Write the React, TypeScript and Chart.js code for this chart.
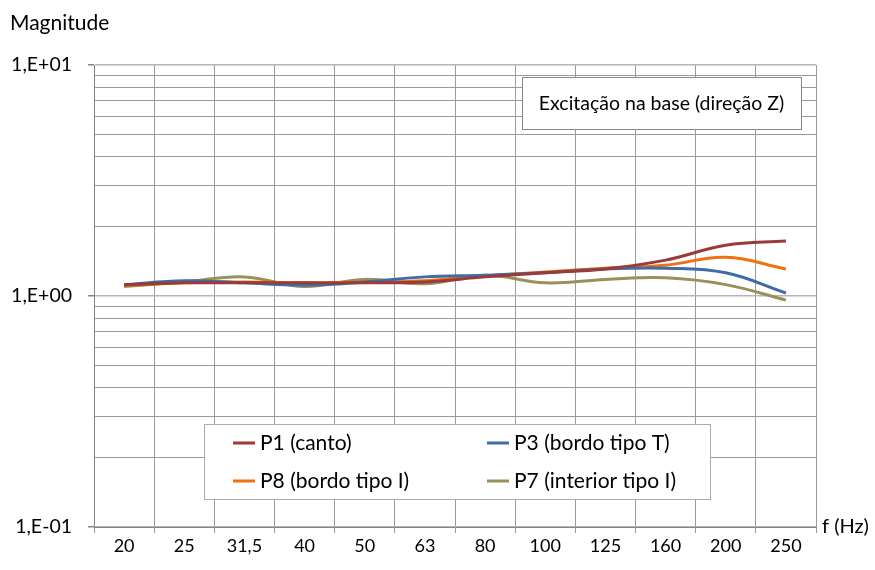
import React, { useEffect, useRef } from "react";
import { Chart, registerables } from "chart.js";

Chart.register(...registerables);

const categories = ["20", "25", "31,5", "40", "50", "63", "80", "100", "125", "160", "200", "250"];
const p1 = [1.12, 1.14, 1.14, 1.14, 1.14, 1.15, 1.21, 1.26, 1.31, 1.43, 1.66, 1.73];
const p3 = [1.12, 1.165, 1.14, 1.115, 1.15, 1.21, 1.23, 1.26, 1.31, 1.32, 1.26, 1.03];
const p8 = [1.11, 1.14, 1.15, 1.14, 1.15, 1.165, 1.22, 1.27, 1.32, 1.36, 1.47, 1.31];
const p7 = [1.1, 1.15, 1.21, 1.1, 1.18, 1.13, 1.23, 1.14, 1.18, 1.2, 1.12, 0.96];
const seriesNames = ["P1 (canto)", "P3 (bordo tipo T)", "P8 (bordo tipo I)", "P7 (interior tipo I)"];
const seriesColors = ["#9B3A38", "#3F6CA6", "#EE7112", "#9A9059"];
const yTickValues = [0.1, 0.2, 0.3, 0.4, 0.5, 0.6, 0.7, 0.8, 0.9, 1, 2, 3, 4, 5, 6, 7, 8, 9, 10];
const yMajorLabels: Record<string, string> = { "0.1": "1,E-01", "1": "1,E+00", "10": "1,E+01" };
const yAxisTitle = "Magnitude";
const xAxisTitle = "f (Hz)";
const boxTitle = "Excitação na base (direção Z)";

const FONT = "Lato, 'Open Sans', sans-serif";

const isMajor = (v: number) => Math.abs(Math.log10(v) - Math.round(Math.log10(v))) < 1e-9;

const overlayPlugin = {
  id: "overlay",
  afterDraw(chart: any) {
    const ctx = chart.ctx as CanvasRenderingContext2D;
    ctx.save();
    ctx.fillStyle = "#000";
    ctx.textBaseline = "middle";
    ctx.textAlign = "left";
    ctx.font = `21px ${FONT}`;
    ctx.fillText(yAxisTitle, 10, 23);
    ctx.font = `20px ${FONT}`;
    ctx.fillText(xAxisTitle, 822, 527);

    // title box
    ctx.fillStyle = "#fff";
    ctx.fillRect(522, 77, 279, 52);
    ctx.strokeStyle = "#888";
    ctx.lineWidth = 1;
    ctx.strokeRect(522.5, 77.5, 279, 52);
    ctx.fillStyle = "#000";
    ctx.font = `19.5px ${FONT}`;
    ctx.textAlign = "center";
    ctx.fillText(boxTitle, 661.5, 103.5);

    // legend box
    ctx.fillStyle = "#fff";
    ctx.fillRect(204, 424, 506, 75);
    ctx.strokeStyle = "#aaa";
    ctx.strokeRect(204.5, 424.5, 506, 75);
    ctx.font = `21px ${FONT}`;
    ctx.textAlign = "left";
    const pos = [
      [233, 443],
      [487, 443],
      [233, 481],
      [487, 481],
    ];
    [0, 1, 2, 3].forEach((di, i) => {
      const ds = chart.data.datasets[di];
      const [x, y] = pos[i];
      ctx.strokeStyle = ds.borderColor;
      ctx.lineWidth = 3;
      ctx.beginPath();
      ctx.moveTo(x, y);
      ctx.lineTo(x + 22, y);
      ctx.stroke();
      ctx.fillStyle = "#000";
      ctx.fillText(ds.label, x + 27, y);
    });
    ctx.restore();
  },
};

export default function App() {
  const ref = useRef<HTMLCanvasElement>(null);
  useEffect(() => {
    const series = [p1, p3, p8, p7];
    const chart = new Chart(ref.current!, {
      type: "line",
      data: {
        labels: categories,
        datasets: series.map((d, i) => ({
          label: seriesNames[i],
          data: d,
          borderColor: seriesColors[i],
          backgroundColor: seriesColors[i],
          borderWidth: 3,
          pointRadius: 0,
          tension: 0.4,
          fill: false,
        })),
      },
      options: {
        animation: false,
        responsive: false,
        devicePixelRatio: 1,
        layout: { padding: { left: 0, top: 65, right: 59, bottom: 0 } },
        plugins: { legend: { display: false }, tooltip: { enabled: false }, title: { display: false } },
        scales: {
          x: {
            type: "category",
            offset: true,
            grid: {
              offset: true,
              color: "#9a9a9a",
              tickLength: 6,
              drawTicks: true,
            },
            border: { color: "#868686" },
            ticks: {
              color: "#000",
              font: { family: FONT, size: 18 },
              padding: 2,
              maxRotation: 0,
              autoSkip: false,
            },
            afterFit: (s: any) => {
              s.height = 43;
            },
          },
          y: {
            type: "logarithmic",
            min: 0.1,
            max: 10,
            afterBuildTicks: (s: any) => {
              s.ticks = yTickValues.map((v) => ({ value: v, major: isMajor(v) }));
            },
            grid: {
              color: (c: any) => (c.tick && isMajor(c.tick.value) ? "#b5b5b5" : "#9a9a9a"),
              lineWidth: (c: any) => (c.tick && isMajor(c.tick.value) ? 1.5 : 1),
              tickLength: 6,
              tickColor: (c: any) => (c.tick && isMajor(c.tick.value) ? "#868686" : "rgba(0,0,0,0)"),
            },
            border: { color: "#868686" },
            ticks: {
              color: "#000",
              font: { family: FONT, size: 19.5 },
              padding: 16,
              autoSkip: false,
              callback: (v: any) => {
                const key = String(Number(v));
                return yMajorLabels[key] ?? "";
              },
            },
            afterFit: (s: any) => {
              s.width = 94;
            },
          },
        },
      },
      plugins: [overlayPlugin],
    });
    return () => chart.destroy();
  }, []);
  return (
    <div style={{ position: "fixed", left: 0, top: 0, width: 875, height: 570, background: "#fff" }}>
      <canvas ref={ref} width={875} height={570} style={{ display: "block" }} />
    </div>
  );
}
